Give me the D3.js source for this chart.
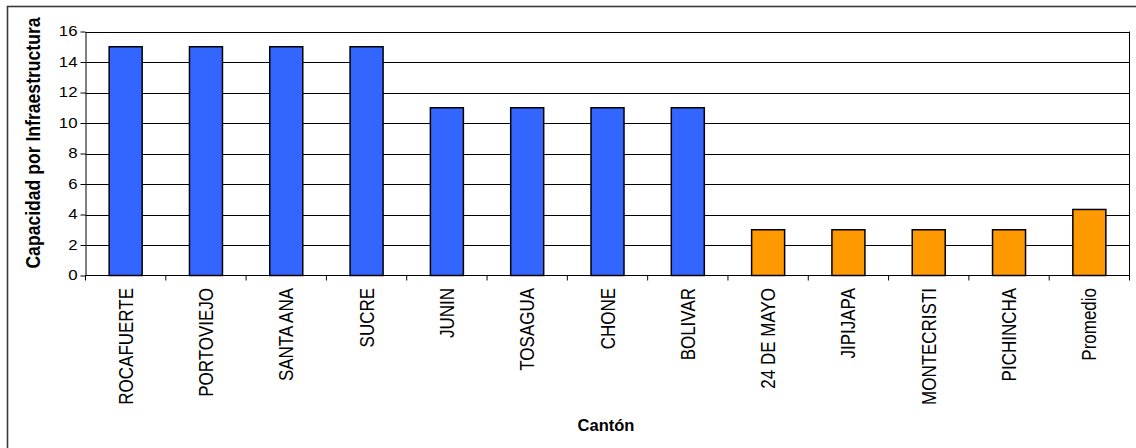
<!DOCTYPE html>
<html>
<head>
<meta charset="utf-8">
<script src="https://cdn.jsdelivr.net/npm/d3@7"></script>
<style>
  html, body { margin: 0; padding: 0; background: #fff; }
  svg { display: block; font-family: Arial, "Liberation Sans", sans-serif; }
</style>
</head>
<body>
<svg id="chart" width="1136" height="448"></svg>
<script>
// Cantones y capacidad por infraestructura
const categories = ["ROCAFUERTE", "PORTOVIEJO", "SANTA ANA", "SUCRE", "JUNIN", "TOSAGUA",
  "CHONE", "BOLIVAR", "24 DE MAYO", "JIPIJAPA", "MONTECRISTI", "PICHINCHA", "Promedio"];
const values = [15, 15, 15, 15, 11, 11, 11, 11, 3, 3, 3, 3, 4.33];
const groups = ["alta", "alta", "alta", "alta", "alta", "alta", "alta", "alta",
  "baja", "baja", "baja", "baja", "baja"];
const yTicks = [0, 2, 4, 6, 8, 10, 12, 14, 16];
const yTitle = "Capacidad por Infraestructura";
const xTitle = "Cantón";

const svg = d3.select("#chart");
const plot = { left: 85.5, right: 1129.5, top: 31.5, bottom: 275.5 };

// outer frame
svg.append("rect")
  .attr("x", 7.5).attr("y", 6.5)
  .attr("width", 1140).attr("height", 460)
  .attr("fill", "none").attr("stroke", "#3a3a3a").attr("stroke-width", 1.6);

const x = d3.scaleBand().domain(categories).range([plot.left, plot.right]).paddingInner(0).paddingOuter(0);
const y = d3.scaleLinear().domain([0, 16]).range([plot.bottom, plot.top]);

// gridlines
svg.append("g").selectAll("line").data(yTicks.filter(d => d > 0)).join("line")
  .attr("x1", plot.left).attr("x2", plot.right)
  .attr("y1", d => Math.round(y(d)) + 0.5).attr("y2", d => Math.round(y(d)) + 0.5)
  .attr("stroke", "#000").attr("stroke-width", 1);

// right border of plot area
svg.append("line")
  .attr("x1", plot.right).attr("x2", plot.right)
  .attr("y1", plot.top).attr("y2", plot.bottom)
  .attr("stroke", "#000");

// bars
const barW = 33;
const colour = { alta: "#3366FF", baja: "#FF9900" };
svg.append("g").selectAll("rect").data(categories).join("rect")
  .attr("x", (d) => x(d) + x.bandwidth() / 2 - barW / 2)
  .attr("y", (d, i) => y(values[i]))
  .attr("width", barW)
  .attr("height", (d, i) => y(0) - y(values[i]))
  .attr("fill", (d, i) => colour[groups[i]])
  .attr("stroke", "#000").attr("stroke-width", 1.5);

// y axis
const yAxis = svg.append("g")
  .attr("transform", `translate(${plot.left},0)`)
  .call(d3.axisLeft(y).tickValues(yTicks).tickSize(5).tickPadding(4).tickSizeOuter(0));
yAxis.select(".domain").attr("stroke", "#000");
yAxis.selectAll(".tick line").attr("stroke", "#000");
yAxis.selectAll(".tick text")
  .attr("x", null)
  .attr("transform", "translate(-8,0) scale(1.2,1)")
  .attr("font-size", 14).attr("fill", "#000")
  .attr("font-family", "Arial, 'Liberation Sans', sans-serif");

// x axis with ticks at band boundaries
const xAxis = svg.append("g").attr("transform", `translate(0,${plot.bottom})`);
xAxis.append("line")
  .attr("x1", plot.left).attr("x2", plot.right)
  .attr("stroke", "#000");
xAxis.selectAll("line.tk").data(categories.concat(["_end"])).join("line")
  .attr("class", "tk")
  .attr("x1", (d, i) => i < categories.length ? x(d) : plot.right)
  .attr("x2", (d, i) => i < categories.length ? x(d) : plot.right)
  .attr("y1", 0).attr("y2", 5)
  .attr("stroke", "#000");

// category labels, rotated
svg.append("g").selectAll("text").data(categories).join("text")
  .attr("transform", d => `translate(${x(d) + x.bandwidth() / 2},288) rotate(-90) scale(1,1.15)`)
  .attr("text-anchor", "end")
  .attr("dy", "0.36em")
  .attr("font-size", 17)
  .attr("fill", "#000")
  .text(d => d);

// axis titles
svg.append("text")
  .attr("transform", "translate(40,143) rotate(-90) scale(1,1.12)")
  .attr("text-anchor", "middle")
  .attr("font-size", 17.6)
  .attr("font-weight", "bold")
  .text(yTitle);

svg.append("text")
  .attr("x", 606).attr("y", 431)
  .attr("text-anchor", "middle")
  .attr("font-size", 16.5)
  .attr("font-weight", "bold")
  .text(xTitle);
</script>
</body>
</html>
